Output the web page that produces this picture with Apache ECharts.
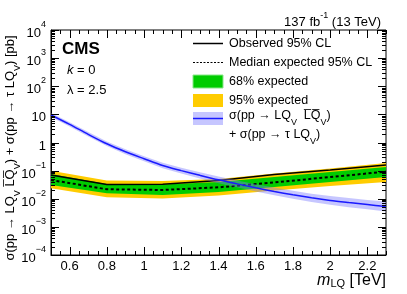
<!DOCTYPE html>
<html><head><meta charset="utf-8">
<script src="https://cdn.jsdelivr.net/npm/echarts@6/dist/echarts.min.js"></script>
<style>html,body{margin:0;padding:0;background:#fff}#c{width:407px;height:294px}</style>
</head><body><div id="c"></div>
<script>
// ---- data ----
const massPoints = [0.5, 0.8, 1.1, 1.4, 1.7, 2.0, 2.3];
const observed   = [0.0699, 0.0321, 0.0326, 0.0446, 0.0728, 0.105, 0.158];
const expected   = [0.0464, 0.0217, 0.0205, 0.0255, 0.0379, 0.0593, 0.0916];
const exp68Low   = [0.0308, 0.0156, 0.0136, 0.0174, 0.0262, 0.0394, 0.0593];
const exp68High  = [0.0759, 0.0334, 0.0321, 0.0394, 0.0593, 0.0893, 0.134];
const exp95Low   = [0.0235, 0.0113, 0.0102, 0.0131, 0.0196, 0.0284, 0.0394];
const exp95High  = [0.0993, 0.0446, 0.0428, 0.0504, 0.0791, 0.119, 0.187];
const theoryMass = [0.5,0.6,0.7,0.8,0.9,1.0,1.1,1.2,1.3,1.4,1.5,1.6,1.7,1.8,1.9,2.0,2.1,2.2,2.3];
const theory     = [9.5,4.4,1.95,0.9,0.47,0.265,0.152,0.100,0.068,0.047,0.0338,0.0245,0.0182,0.0138,0.0108,0.0087,0.0073,0.0062,0.0053];
const theoryUp   = [11.2,5.24,2.34,1.09,0.573,0.326,0.19,0.127,0.0877,0.0616,0.045,0.0331,0.0249,0.0192,0.0152,0.0124,0.0106,0.0091,0.0080];
const theoryDown = [8.05,3.70,1.63,0.744,0.385,0.215,0.122,0.0787,0.0527,0.0359,0.0254,0.0181,0.0133,0.0099,0.0077,0.0061,0.0050,0.0042,0.0035];
const xTicks = [0.6, 0.8, 1.0, 1.2, 1.4, 1.6, 1.8, 2.0, 2.2];
const yExponents = [-4, -3, -2, -1, 0, 1, 2, 3, 4];
const xMin = 0.5, xMax = 2.3, yMin = 1e-4, yMax = 1e4;

const FONT = 'Liberation Sans';
const chart = echarts.init(document.getElementById('c'), null, {renderer: 'canvas'});

function pairs(xs, ys) { return xs.map((x, i) => [x, ys[i]]); }

function bandSeries(xs, lo, hi, color, z) {
  return {
    type: 'custom', z: z, silent: true, clip: true,
    data: [[xs[0], lo[0]]],
    renderItem: function (params, api) {
      const pts = [];
      for (let i = 0; i < xs.length; i++) pts.push(api.coord([xs[i], lo[i]]));
      for (let i = xs.length - 1; i >= 0; i--) pts.push(api.coord([xs[i], hi[i]]));
      return {type: 'polygon', shape: {points: pts}, style: {fill: color}};
    }
  };
}

function ticksSeries() {
  return {
    type: 'custom', z: 20, silent: true, clip: false,
    data: [[1, 1]],
    renderItem: function (params, api) {
      const ch = [];
      const line = (x1, y1, x2, y2) => ch.push({type: 'line', shape: {x1, y1, x2, y2}, style: {stroke: '#000', lineWidth: 1}});
      for (let k = -4; k <= 4; k++) {
        for (let j = 1; j <= 9; j++) {
          if (k === 4 && j > 1) break;
          const v = j * Math.pow(10, k);
          const L = api.coord([xMin, v]), R = api.coord([xMax, v]);
          const len = j === 1 ? 8 : 4;
          const y = Math.round(L[1]) + 0.5;
          line(L[0], y, L[0] + len, y);
          line(R[0], y, R[0] - len, y);
        }
      }
      for (let i = 0; i <= 36; i++) {
        const v = xMin + i * 0.05;
        const isMajor = xTicks.some(t => Math.abs(t - v) < 1e-6);
        const B = api.coord([v, yMin]), T = api.coord([v, yMax]);
        const len = isMajor ? 8 : 4;
        const x = Math.round(B[0]) + 0.5;
        line(x, B[1], x, B[1] - len);
        line(x, T[1], x, T[1] + len);
      }
      return {type: 'group', children: ch};
    }
  };
}

const supRich = {
  b: {fontSize: 13, fontFamily: FONT, color: '#000', lineHeight: 20, verticalAlign: 'bottom'},
  sup: {fontSize: 9, fontFamily: FONT, color: '#000', lineHeight: 9, verticalAlign: 'top'}
};
const subRich = {
  t: {fontSize: 12.5, fontFamily: FONT, color: '#000', lineHeight: 18, verticalAlign: 'top'},
  s: {fontSize: 9, fontFamily: FONT, color: '#000', lineHeight: 9, verticalAlign: 'bottom'}
};

const option = {
  backgroundColor: '#fff',
  animation: false,
  grid: {left: 51, right: 21, top: 30, bottom: 39, containLabel: false, outerBoundsMode: 'none',
         show: true, borderColor: '#000', borderWidth: 1, backgroundColor: 'transparent'},
  xAxis: {
    type: 'value', min: xMin, max: xMax, interval: 0.1,
    axisLine: {show: true, onZero: false, lineStyle: {color: '#000', width: 1}},
    axisTick: {show: false}, splitLine: {show: false},
    axisLabel: {
      margin: 5, fontSize: 13, fontFamily: FONT, color: '#000',
      showMinLabel: true, showMaxLabel: true,
      formatter: function (v) {
        const t = xTicks.find(t => Math.abs(t - v) < 1e-6);
        if (t === undefined) return '';
        return String(Math.round(t * 10) / 10);
      }
    }
  },
  yAxis: {
    type: 'log', logBase: 10, min: yMin, max: yMax, interval: 1,
    axisLine: {show: true, lineStyle: {color: '#000', width: 1}},
    axisTick: {show: false}, splitLine: {show: false}, minorTick: {show: false},
    axisLabel: {
      margin: 5, rich: supRich,
      formatter: function (v) {
        const e = Math.round(Math.log10(v));
        if (!yExponents.includes(e)) return '';
        if (e === 0) return '{b|1}';
        if (e === 1) return '{b|10}';
        return '{b|10}{sup|' + String(e).replace('-', '\u2212') + '}';
      }
    }
  },
  series: [
    bandSeries(massPoints, exp95Low, exp95High, '#ffcc00', 1),
    bandSeries(massPoints, exp68Low, exp68High, '#00cc00', 2),
    {type: 'line', z: 3, data: pairs(massPoints, observed), symbol: 'none', silent: true,
     lineStyle: {color: '#000', width: 1.5}},
    {type: 'line', z: 3, data: pairs(massPoints, expected), symbol: 'none', silent: true,
     lineStyle: {color: '#000', width: 2, type: [3, 2.5]}},
    bandSeries(theoryMass, theoryDown, theoryUp, 'rgba(120,120,255,0.42)', 4),
    {type: 'line', z: 5, data: pairs(theoryMass, theory), symbol: 'none', silent: true, smooth: 0.3,
     lineStyle: {color: '#1a1aff', width: 1.5}},
    ticksSeries()
  ],
  graphic: [
    {type: 'text', x: 381, y: 20, style: {text: '{b|137 fb}{sup|-1}{b| (13 TeV)}', align: 'right', verticalAlign: 'middle',
      rich: {b: {fontSize: 13, fontFamily: FONT, fill: '#000', lineHeight: 18, verticalAlign: 'bottom'},
             sup: {fontSize: 9, fontFamily: FONT, fill: '#000', lineHeight: 9, verticalAlign: 'top'}}}},
    {type: 'text', x: 62, y: 49, style: {text: 'CMS', fontSize: 17, fontWeight: 'bold', fontFamily: FONT, fill: '#000', verticalAlign: 'middle'}},
    {type: 'text', x: 67, y: 70, style: {text: '{i|k}{t| = 0}', verticalAlign: 'middle',
      rich: {i: {fontSize: 13, fontStyle: 'italic', fontFamily: FONT, fill: '#000'}, t: {fontSize: 13, fontFamily: FONT, fill: '#000'}}}},
    {type: 'text', x: 67, y: 90, style: {text: '\u03bb = 2.5', fontSize: 13, fontFamily: FONT, fill: '#000', verticalAlign: 'middle'}},
    // legend
    {type: 'line', shape: {x1: 193, y1: 43.5, x2: 223, y2: 43.5}, style: {stroke: '#000', lineWidth: 1.5}},
    {type: 'text', x: 229, y: 43.5, style: {text: 'Observed 95% CL', fontSize: 12.5, fontFamily: FONT, fill: '#000', verticalAlign: 'middle'}},
    {type: 'line', shape: {x1: 193, y1: 62.5, x2: 223, y2: 62.5}, style: {stroke: '#000', lineWidth: 1, lineDash: [2, 1.5]}},
    {type: 'text', x: 229, y: 62.5, style: {text: 'Median expected 95% CL', fontSize: 12.5, fontFamily: FONT, fill: '#000', verticalAlign: 'middle'}},
    {type: 'rect', shape: {x: 193, y: 75, width: 30, height: 13}, style: {fill: '#00cc00', stroke: '#88e888', lineWidth: 1}},
    {type: 'text', x: 229, y: 81.5, style: {text: '68% expected', fontSize: 12.5, fontFamily: FONT, fill: '#000', verticalAlign: 'middle'}},
    {type: 'rect', shape: {x: 193, y: 94, width: 30, height: 13}, style: {fill: '#ffcc00'}},
    {type: 'text', x: 229, y: 100.5, style: {text: '95% expected', fontSize: 12.5, fontFamily: FONT, fill: '#000', verticalAlign: 'middle'}},
    {type: 'rect', shape: {x: 193, y: 112, width: 30, height: 13}, style: {fill: 'rgba(120,120,255,0.42)'}},
    {type: 'line', shape: {x1: 193, y1: 118.5, x2: 223, y2: 118.5}, style: {stroke: '#1a1aff', lineWidth: 1.5}},
    {type: 'text', x: 229, y: 118.5, style: {text: '{t|\u03c3(pp \u2192 LQ}{s|V}{t|  L\u0305Q\u0305}{s|V}{t|)}', verticalAlign: 'middle', rich: subRich}},
    {type: 'text', x: 229, y: 137.5, style: {text: '{t|+ \u03c3(pp \u2192 \u03c4 LQ}{s|V}{t|)}', verticalAlign: 'middle', rich: subRich}},
    // axis titles
    {type: 'text', x: 386, y: 281, style: {text: '{i|m}{s|LQ}{t| [TeV]}', align: 'right', verticalAlign: 'middle',
      rich: {i: {fontSize: 16, fontStyle: 'italic', fontFamily: FONT, fill: '#000', lineHeight: 17, verticalAlign: 'top'},
             t: {fontSize: 16, fontFamily: FONT, fill: '#000', lineHeight: 17, verticalAlign: 'top'},
             s: {fontSize: 11, fontFamily: FONT, fill: '#000', lineHeight: 11, verticalAlign: 'bottom'}}}},
    {type: 'text', x: 13, y: 148, rotation: Math.PI / 2,
     style: {text: '{t|\u03c3(pp \u2192 LQ}{s|V}{t| L\u0305Q\u0305}{s|V}{t|) + \u03c3(pp \u2192 \u03c4 LQ}{s|V}{t|) [pb]}',
             align: 'center', verticalAlign: 'middle',
             rich: {t: {fontSize: 13, fontFamily: FONT, fill: '#000', lineHeight: 18, verticalAlign: 'top'},
                    s: {fontSize: 9, fontFamily: FONT, fill: '#000', lineHeight: 9, verticalAlign: 'bottom'}}}}
  ]
};
chart.setOption(option);
</script></body></html>
